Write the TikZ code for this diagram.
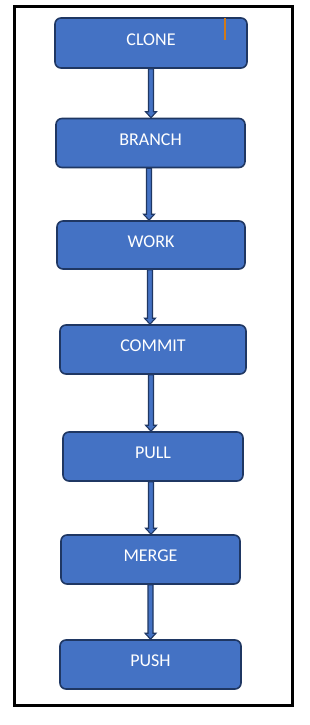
\documentclass[tikz,border=0pt]{standalone}
\usepackage{fontspec}
\setmainfont{Carlito}
\usetikzlibrary{calc}
\definecolor{step-fill}{HTML}{4472C4}
\definecolor{step-line}{HTML}{1F3763}
\definecolor{cursor-orange}{HTML}{D07A1A}

\begin{document}
\begin{tikzpicture}[x=1pt, y=-1pt,
    every node/.style={font=\fontsize{18}{21}\selectfont},
    gitstep/.style={draw=step-line, line width=1.6pt, fill=step-fill, text=white,
      rounded corners=6pt, text height=12pt, text depth=7.5pt, inner sep=0pt},
    flowarrow/.style={draw=step-line, line width=1.1pt, fill=step-fill,
      to path={let \p1=(\tikztostart), \p2=(\tikztotarget) in
        (\x1-2.5pt,\y1) -- (\x1-2.5pt,\y2+6pt) -- (\x1-5.5pt,\y2+6pt) -- (\x1,\y2)
        -- (\x1+5.5pt,\y2+6pt) -- (\x1+2.5pt,\y2+6pt) -- (\x1+2.5pt,\y1) -- cycle}}]
  \useasboundingbox[fill=white] (0,0) rectangle (309,725);
  \draw[line width=3pt] (14.5,6.5) rectangle (292.5,705);

  \node[gitstep, minimum width=192pt, minimum height=50pt] (clone) at (151,43) {CLONE};
  \node[gitstep, minimum width=189pt, minimum height=49pt] (branch) at (150.5,143) {BRANCH};
  \node[gitstep, minimum width=188pt, minimum height=48pt] (work) at (151,245) {WORK};
  \node[gitstep, minimum width=186pt, minimum height=49pt] (commit) at (153,349.5) {COMMIT};
  \node[gitstep, minimum width=180pt, minimum height=49pt] (pull) at (153,456.5) {PULL};
  \node[gitstep, minimum width=179pt, minimum height=49pt] (merge) at (150.5,559.5) {MERGE};
  \node[gitstep, minimum width=181pt, minimum height=49pt] (push) at (150.5,664.5) {PUSH};

  % text cursor left in the first box
  \coordinate (cursor) at (225,18);
  \draw[cursor-orange, line width=1.5pt] (cursor) -- ++(0,22);

  \draw[flowarrow] (clone.south) to (clone.south |- branch.north);
  \draw[flowarrow] ([xshift=-1.5pt]branch.south) to ([xshift=-1.5pt]branch.south |- work.north);
  \draw[flowarrow] ([xshift=-1pt]work.south) to ([xshift=-1pt]work.south |- commit.north);
  \draw[flowarrow] ([xshift=-2pt]commit.south) to ([xshift=-2pt]commit.south |- pull.north);
  \draw[flowarrow] ([xshift=-2pt]pull.south) to ([xshift=-2pt]pull.south |- merge.north);
  \draw[flowarrow] (merge.south) to (merge.south |- push.north);
\end{tikzpicture}
\end{document}
